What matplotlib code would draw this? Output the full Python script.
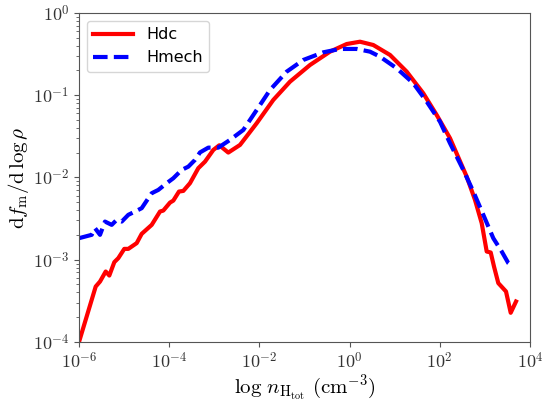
import numpy as np
import matplotlib
matplotlib.use('Agg')
from matplotlib import pyplot as plt
from matplotlib import ticker

# values, stored as log10
hdc_logn = [-6.000, -5.630, -5.534, -5.408, -5.328, -5.217, -5.129, -4.996, -4.907, -4.721,
            -4.610, -4.388, -4.204, -4.131, -3.982, -3.909, -3.783, -3.687, -3.539, -3.355,
            -3.206, -3.022, -2.889, -2.690, -2.430, -2.060, -1.692, -1.322, -0.878, -0.435,
            -0.064, 0.231, 0.525, 0.896, 1.266, 1.634, 1.931, 2.226, 2.596, 2.780,
            2.929, 3.040, 3.129, 3.202, 3.297, 3.468, 3.572, 3.690]
hdc_logf = [-4.000, -3.326, -3.265, -3.143, -3.192, -3.029, -2.981, -2.868, -2.868, -2.798,
            -2.685, -2.576, -2.414, -2.402, -2.305, -2.281, -2.171, -2.163, -2.069, -1.887,
            -1.807, -1.665, -1.608, -1.697, -1.604, -1.340, -1.057, -0.835, -0.632, -0.470,
            -0.377, -0.349, -0.389, -0.510, -0.713, -0.976, -1.240, -1.522, -1.989, -2.272,
            -2.555, -2.900, -2.912, -3.083, -3.284, -3.386, -3.645, -3.508]

hmech_logn = [-6.000, -5.718, -5.645, -5.534, -5.424, -5.275, -5.164, -5.053, -4.907, -4.758,
              -4.610, -4.388, -4.242, -4.055, -3.909, -3.723, -3.576, -3.428, -3.317, -3.133,
              -2.911, -2.652, -2.357, -2.060, -1.765, -1.395, -1.027, -0.583, -0.213, 0.157,
              0.452, 0.674, 1.044, 1.412, 1.710, 2.004, 2.226, 2.521, 2.743, 2.965,
              3.186, 3.373, 3.519, 3.623]
hmech_logf = [-2.738, -2.697, -2.616, -2.697, -2.536, -2.576, -2.515, -2.536, -2.454, -2.414,
              -2.373, -2.191, -2.151, -2.069, -2.009, -1.908, -1.868, -1.786, -1.695, -1.637,
              -1.637, -1.543, -1.422, -1.179, -0.936, -0.713, -0.571, -0.478, -0.437, -0.437,
              -0.470, -0.531, -0.672, -0.854, -1.078, -1.321, -1.583, -1.908, -2.171, -2.454,
              -2.738, -2.900, -3.041, -3.086]

plt.rcParams['mathtext.fontset'] = 'cm'

fig = plt.figure(figsize=(5.46, 3.99), dpi=100)
ax = fig.add_axes([0.1447, 0.1429, 0.8260, 0.8245])

ax.plot(10 ** np.array(hdc_logn), 10 ** np.array(hdc_logf), color='red', lw=3, label='Hdc')
ax.plot(10 ** np.array(hmech_logn), 10 ** np.array(hmech_logf), color='blue', lw=3,
        ls='--', dashes=(3.5, 1.5), label='Hmech')

ax.set_xscale('log')
ax.set_yscale('log')
ax.set_xlim(1e-6, 1e4)
ax.set_ylim(1e-4, 1e0)
ax.xaxis.set_major_locator(ticker.LogLocator(base=10, numticks=6))
ax.xaxis.set_minor_locator(ticker.NullLocator())
ax.yaxis.set_minor_locator(ticker.LogLocator(base=10, subs=np.arange(2, 10), numticks=20))

exp_fmt = ticker.FuncFormatter(lambda v, p: r'$10^{%d}$' % int(round(np.log10(v))))
ax.xaxis.set_major_formatter(exp_fmt)
ax.yaxis.set_major_formatter(exp_fmt)
ax.yaxis.set_minor_formatter(ticker.NullFormatter())

ax.set_xlabel(r'$\log\,n_{\rm H_{tot}}\ ({\rm cm^{-3}})$', fontsize=15, labelpad=0)
ax.set_ylabel(r'${\rm d}f_{\rm m}/{\rm d}\,\log\rho$', fontsize=15, labelpad=1)
ax.tick_params(labelsize=13, colors='#333333')
ax.tick_params(axis='both', which='both', color='#555555')
for sp in ax.spines.values():
    sp.set_color('#555555')

ax.legend(loc='upper left', fontsize=11.5, handlelength=2.5)

plt.savefig('out.png', dpi=100)
